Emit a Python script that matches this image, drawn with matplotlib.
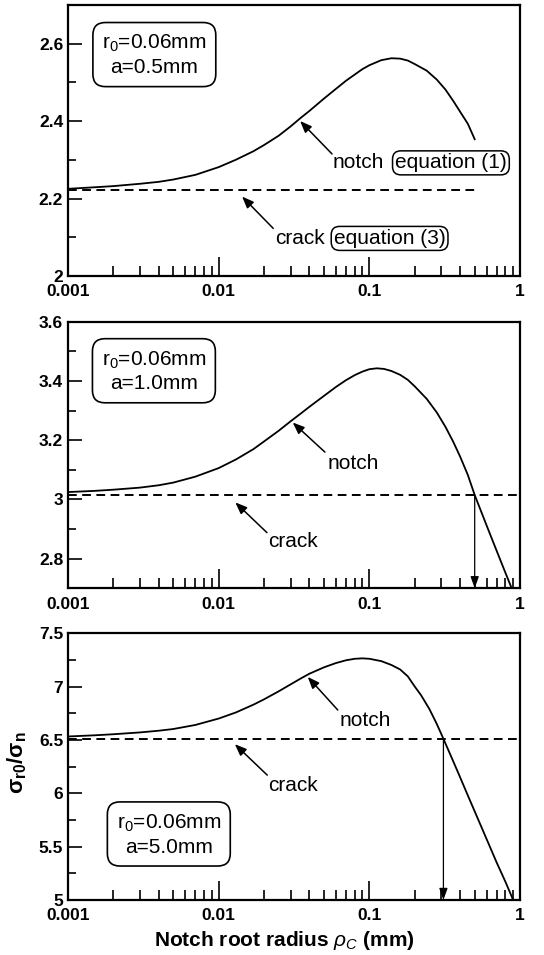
import numpy as np
import matplotlib.pyplot as plt
from matplotlib.ticker import MultipleLocator, FormatStrFormatter, LogLocator, NullFormatter

plt.rcParams['font.family'] = ['Liberation Sans', 'DejaVu Sans']
plt.rcParams['mathtext.fontset'] = 'custom'
plt.rcParams['mathtext.rm'] = 'Liberation Sans'
plt.rcParams['mathtext.it'] = 'Liberation Sans:italic'
plt.rcParams['mathtext.bf'] = 'Liberation Sans:bold'

# notch curves (rho in mm, sigma ratio)
x1 = [0.001, 0.0015, 0.002, 0.003, 0.004, 0.005, 0.007, 0.01, 0.013, 0.017, 0.02,
      0.025, 0.03, 0.035, 0.04, 0.05, 0.06, 0.07, 0.08, 0.09, 0.1, 0.12, 0.14,
      0.16, 0.18, 0.2, 0.24, 0.28, 0.32, 0.36, 0.4, 0.45, 0.5]
y1 = [2.225, 2.229, 2.232, 2.238, 2.243, 2.249, 2.261, 2.281, 2.300, 2.322, 2.338,
      2.362, 2.386, 2.408, 2.426, 2.458, 2.483, 2.504, 2.520, 2.534, 2.544, 2.557, 2.562,
      2.561, 2.556, 2.547, 2.530, 2.507, 2.481, 2.452, 2.424, 2.393, 2.353]

x2 = [0.001, 0.0015, 0.002, 0.003, 0.004, 0.005, 0.007, 0.01, 0.013, 0.017, 0.02,
      0.025, 0.03, 0.035, 0.04, 0.05, 0.06, 0.07, 0.08, 0.09, 0.1, 0.112, 0.125,
      0.14, 0.16, 0.18, 0.2, 0.24, 0.28, 0.32, 0.36, 0.4, 0.45, 0.5, 0.6, 0.7,
      0.8, 0.88]
y2 = [3.025, 3.029, 3.033, 3.040, 3.048, 3.057, 3.077, 3.106, 3.135, 3.170, 3.196,
      3.232, 3.264, 3.290, 3.313, 3.350, 3.380, 3.403, 3.420, 3.432, 3.440, 3.443, 3.441,
      3.434, 3.421, 3.404, 3.382, 3.340, 3.294, 3.245, 3.195, 3.145, 3.083, 3.015, 2.912, 2.826,
      2.752, 2.700]

x3 = [0.001, 0.0015, 0.002, 0.003, 0.004, 0.005, 0.007, 0.01, 0.013, 0.017, 0.02,
      0.025, 0.03, 0.035, 0.04, 0.05, 0.06, 0.07, 0.08, 0.09, 0.1, 0.12, 0.14,
      0.16, 0.18, 0.2, 0.22, 0.25, 0.28, 0.31, 0.35, 0.4, 0.45, 0.5, 0.6, 0.7,
      0.8, 0.9]
y3 = [6.532, 6.543, 6.553, 6.570, 6.586, 6.602, 6.640, 6.700, 6.757, 6.830, 6.880,
      6.955, 7.020, 7.075, 7.120, 7.180, 7.220, 7.246, 7.260, 7.264, 7.260, 7.238, 7.202,
      7.160, 7.095, 7.000, 6.920, 6.790, 6.650, 6.510, 6.340, 6.150, 5.980, 5.830, 5.570, 5.350,
      5.170, 5.000]

# crack levels (dashed)
crack = [2.222, 3.015, 6.51]
crack_end = [0.5, 1.0, 1.0]
# where the notch curve meets the crack line
cross_x = [None, 0.5, 0.31]

ylims = [(2.0, 2.7), (2.7, 3.6), (5.0, 7.5)]
ymaj = [0.2, 0.2, 0.5]
ymin = [0.1, 0.1, 0.25]
box_txt = ['r$_0$=0.06mm\na=0.5mm', 'r$_0$=0.06mm\na=1.0mm', 'r$_0$=0.06mm\na=5.0mm']
box_pos = [(0.191, 0.814), (0.19, 0.814), (0.223, 0.245)]

xticks = [0.001, 0.01, 0.1, 1]
xticklabels = ['0.001', '0.01', '0.1', '1']

fig = plt.figure(figsize=(5.44, 9.55), dpi=100)
rects = [[0.125, 0.711, 0.831, 0.284],
         [0.125, 0.384, 0.831, 0.279],
         [0.125, 0.0576, 0.831, 0.2794]]
xs = [x1, x2, x3]
ys = [y1, y2, y3]

arrow_kw = dict(arrowstyle='-|>,head_length=0.7,head_width=0.28', color='black',
                lw=1.1, shrinkA=0, shrinkB=0)

axes = []
for i in range(3):
    ax = fig.add_axes(rects[i])
    axes.append(ax)
    ax.plot(xs[i], ys[i], color='black', lw=1.3)
    ax.plot([0.001, crack_end[i]], [crack[i], crack[i]], color='black', lw=1.4,
            linestyle=(0, (4.5, 2.8)))
    ax.set_xscale('log')
    ax.set_xlim(0.001, 1)
    ax.set_ylim(*ylims[i])
    ax.set_xticks(xticks)
    ax.set_xticklabels(xticklabels)
    ax.xaxis.set_minor_locator(LogLocator(base=10, subs=np.arange(2, 10)))
    ax.xaxis.set_minor_formatter(NullFormatter())
    ax.yaxis.set_major_locator(MultipleLocator(ymaj[i]))
    ax.yaxis.set_minor_locator(MultipleLocator(ymin[i]))
    ax.yaxis.set_major_formatter(FormatStrFormatter('%g'))
    ax.tick_params(which='both', direction='in', top=False, right=False, width=1.2,
                   labelsize=12.5)
    ax.tick_params(which='major', length=10)
    ax.tick_params(which='minor', length=6)
    ax.tick_params(axis='x', which='major', length=14, pad=6)
    ax.tick_params(axis='x', which='minor', length=7)
    for lab in ax.get_xticklabels() + ax.get_yticklabels():
        lab.set_fontweight('bold')
    for s in ax.spines.values():
        s.set_linewidth(1.6)
    ax.text(box_pos[i][0], box_pos[i][1], box_txt[i], transform=ax.transAxes,
            ha='center', va='center', fontsize=15, linespacing=1.25,
            bbox=dict(boxstyle='round,pad=0.45,rounding_size=0.6', fc='white',
                      ec='black', lw=1.2))
    if cross_x[i] is not None:
        ax.annotate('', xy=(cross_x[i], ylims[i][0]), xytext=(cross_x[i], crack[i]),
                    arrowprops=dict(arrowstyle='-|>,head_length=0.7,head_width=0.25',
                                    color='black', lw=0.9, shrinkA=0, shrinkB=0))

eq_box = dict(boxstyle='round,pad=0.12,rounding_size=0.4', fc='white', ec='black', lw=1.1)

# panel 1 labels
ax = axes[0]
ax.annotate('', xy=(0.0347, 2.40), xytext=(0.0565, 2.315), arrowprops=arrow_kw)
ax.text(0.0573, 2.292, 'notch', fontsize=15, va='center')
ax.text(0.148, 2.292, 'equation (1)', fontsize=15, va='center', bbox=eq_box)
ax.annotate('', xy=(0.0143, 2.205), xytext=(0.023, 2.123), arrowprops=arrow_kw)
ax.text(0.0237, 2.097, 'crack', fontsize=15, va='center')
ax.text(0.0580, 2.097, 'equation (3)', fontsize=15, va='center', bbox=eq_box)

# panel 2 labels
ax = axes[1]
ax.annotate('', xy=(0.031, 3.26), xytext=(0.0507, 3.16), arrowprops=arrow_kw)
ax.text(0.0524, 3.12, 'notch', fontsize=15, va='center')
ax.annotate('', xy=(0.0129, 2.99), xytext=(0.0209, 2.888), arrowprops=arrow_kw)
ax.text(0.0212, 2.857, 'crack', fontsize=15, va='center')

# panel 3 labels
ax = axes[2]
ax.annotate('', xy=(0.039, 7.09), xytext=(0.0617, 6.78), arrowprops=arrow_kw)
ax.text(0.0638, 6.68, 'notch', fontsize=15, va='center')
ax.annotate('', xy=(0.0128, 6.46), xytext=(0.021, 6.17), arrowprops=arrow_kw)
ax.text(0.0212, 6.07, 'crack', fontsize=15, va='center')

fig.text(0.522, 1 - 940 / 955, r'Notch root radius $\rho_C$ (mm)', ha='center',
         va='center', fontsize=15, fontweight='bold')
fig.text(0.032, 1 - 763 / 955, r'σ$_{\mathbf{r0}}$/σ$_{\mathbf{n}}$', rotation=90,
         ha='center', va='center', fontsize=16, fontweight='bold')

fig.savefig('out.png', dpi=100)
